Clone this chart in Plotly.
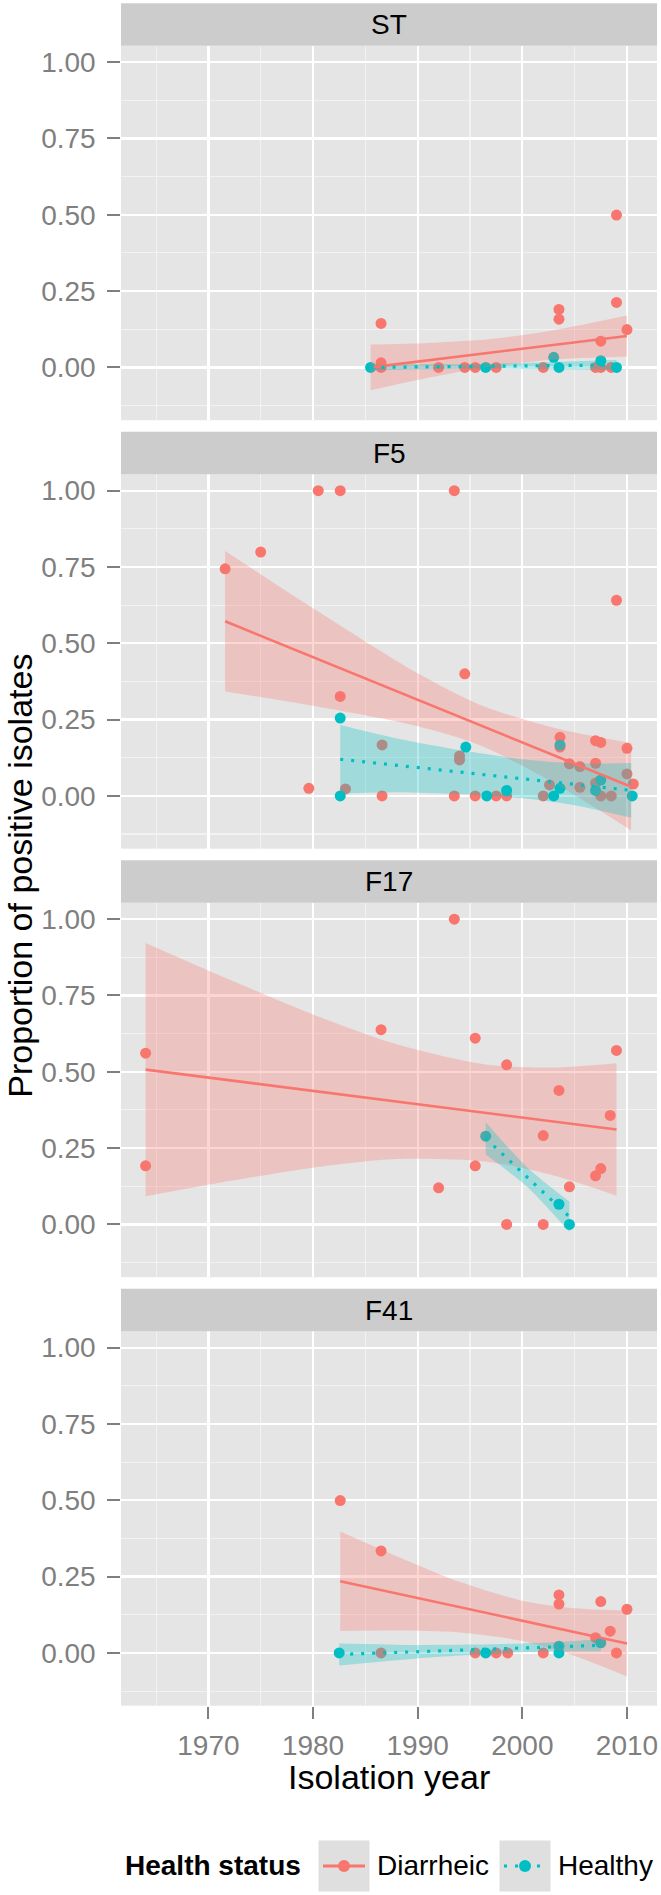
import plotly.graph_objects as go

# ---------------- data ----------------
panels = ["ST", "F5", "F17", "F41"]
groups = ["Diarrheic", "Healthy"]
x_ticks = [1970, 1980, 1990, 2000, 2010]
y_ticks = [0.0, 0.25, 0.50, 0.75, 1.00]
y_tick_text = ["0.00", "0.25", "0.50", "0.75", "1.00"]

# points
st_d_year = [1986.5, 1986.5, 1986.5, 1992.0, 1994.5, 1995.5, 1997.5, 2002.0, 2003.5, 2003.5, 2007.0, 2007.5, 2007.5, 2008.5, 2009.0, 2009.0, 2010.0]
st_d_prop = [0.144, 0.015, 0.0, 0.0, 0.0, 0.0, 0.0, 0.0, 0.190, 0.158, 0.0, 0.0, 0.086, 0.0, 0.499, 0.213, 0.124]
st_h_year = [1985.5, 1996.5, 2003.0, 2003.5, 2007.5, 2009.0]
st_h_prop = [0.0, 0.0, 0.033, 0.0, 0.022, 0.0]

f5_d_year = [1971.6, 1975.0, 1979.6, 1980.5, 1982.6, 1982.6, 1983.1, 1986.6, 1986.6, 1993.5, 1993.5, 1994.0, 1994.0, 1994.5, 1995.5, 1997.5, 1998.5, 2002.0, 2002.6, 2003.6, 2003.6, 2004.5, 2005.5, 2005.5, 2007.0, 2007.0, 2007.0, 2007.5, 2007.5, 2008.5, 2009.0, 2010.0, 2010.0, 2010.6]
f5_d_prop = [0.744, 0.799, 0.025, 1.0, 1.0, 0.326, 0.023, 0.167, 0.0, 1.0, 0.0, 0.131, 0.118, 0.400, 0.0, 0.0, 0.0, 0.0, 0.036, 0.192, 0.160, 0.105, 0.096, 0.028, 0.181, 0.107, 0.042, 0.175, 0.0, 0.0, 0.641, 0.156, 0.072, 0.039]
f5_h_year = [1982.6, 1982.6, 1994.6, 1996.6, 1998.5, 2003.0, 2003.6, 2003.6, 2007.0, 2007.5, 2010.5]
f5_h_prop = [0.255, 0.0, 0.160, 0.0, 0.018, 0.0, 0.025, 0.167, 0.018, 0.052, 0.0]

f17_d_year = [1964.0, 1964.0, 1986.5, 1992.0, 1993.5, 1995.5, 1995.5, 1998.5, 1998.5, 2002.0, 2002.0, 2003.5, 2004.5, 2007.0, 2007.5, 2008.4, 2009.0]
f17_d_prop = [0.561, 0.192, 0.638, 0.120, 1.0, 0.610, 0.192, 0.523, 0.0, 0.291, 0.0, 0.439, 0.123, 0.159, 0.183, 0.357, 0.570]
f17_h_year = [1996.5, 2003.5, 2004.5]
f17_h_prop = [0.289, 0.066, 0.0]

f41_d_year = [1982.6, 1986.5, 1986.5, 1995.5, 1997.5, 1998.6, 2002.0, 2003.5, 2003.5, 2007.0, 2007.5, 2008.4, 2009.0, 2010.0]
f41_d_prop = [0.499, 0.334, 0.0, 0.0, 0.0, 0.0, 0.0, 0.190, 0.160, 0.050, 0.168, 0.071, 0.0, 0.143]
f41_h_year = [1982.5, 1996.5, 2003.5, 2003.5, 2007.5]
f41_h_prop = [0.0, 0.0, 0.0, 0.022, 0.033]

# linear smooths (fit and 95% band)
st_d_sx = [1985.5, 1991.0, 1997.0, 2003.0, 2010.0]
st_d_fit = [0.000, 0.023, 0.048, 0.074, 0.103]
st_d_lo = [-0.075, -0.034, 0.003, 0.026, 0.036]
st_d_hi = [0.075, 0.080, 0.093, 0.122, 0.170]
st_h_sx = [1985.5, 1997.0, 2009.0]
st_h_fit = [0.000, 0.004, 0.008]
st_h_lo = [-0.010, -0.004, -0.008]
st_h_hi = [0.010, 0.012, 0.024]

f5_d_sx = [1971.6, 1980.0, 1990.0, 1996.0, 2003.0, 2010.4]
f5_d_fit = [0.572, 0.455, 0.315, 0.231, 0.133, 0.030]
f5_d_lo = [0.342, 0.295, 0.228, 0.165, 0.043, -0.113]
f5_d_hi = [0.802, 0.615, 0.402, 0.298, 0.223, 0.173]
f5_h_sx = [1982.6, 1988.0, 1994.0, 2000.0, 2005.0, 2010.4]
f5_h_fit = [0.120, 0.100, 0.078, 0.056, 0.038, 0.018]
f5_h_lo = [0.008, 0.012, 0.006, -0.008, -0.031, -0.072]
f5_h_hi = [0.232, 0.188, 0.150, 0.120, 0.107, 0.108]

f17_d_sx = [1964.0, 1972.0, 1980.0, 1988.0, 1996.5, 2003.0, 2009.0]
f17_d_fit = [0.507, 0.472, 0.437, 0.402, 0.365, 0.337, 0.311]
f17_d_lo = [0.092, 0.142, 0.186, 0.214, 0.206, 0.160, 0.094]
f17_d_hi = [0.922, 0.802, 0.688, 0.590, 0.524, 0.514, 0.528]
f17_h_sx = [1996.5, 2000.5, 2004.5]
f17_h_fit = [0.282, 0.154, 0.025]
f17_h_lo = [0.229, 0.122, -0.025]
f17_h_hi = [0.335, 0.186, 0.075]

f41_d_sx = [1982.6, 1988.0, 1994.0, 2000.0, 2005.0, 2010.0]
f41_d_fit = [0.235, 0.195, 0.150, 0.105, 0.068, 0.031]
f41_d_lo = [0.072, 0.073, 0.067, 0.039, -0.010, -0.077]
f41_d_hi = [0.398, 0.317, 0.233, 0.171, 0.146, 0.139]
f41_h_sx = [1982.5, 1990.0, 1997.0, 2003.0, 2007.5]
f41_h_fit = [-0.005, 0.004, 0.0125, 0.0197, 0.025]
f41_h_lo = [-0.041, -0.018, -0.003, 0.005, 0.005]
f41_h_hi = [0.031, 0.026, 0.028, 0.035, 0.045]

points = {
    "ST": {"Diarrheic": (st_d_year, st_d_prop), "Healthy": (st_h_year, st_h_prop)},
    "F5": {"Diarrheic": (f5_d_year, f5_d_prop), "Healthy": (f5_h_year, f5_h_prop)},
    "F17": {"Diarrheic": (f17_d_year, f17_d_prop), "Healthy": (f17_h_year, f17_h_prop)},
    "F41": {"Diarrheic": (f41_d_year, f41_d_prop), "Healthy": (f41_h_year, f41_h_prop)},
}
smooths = {
    "ST": {"Diarrheic": (st_d_sx, st_d_fit, st_d_lo, st_d_hi), "Healthy": (st_h_sx, st_h_fit, st_h_lo, st_h_hi)},
    "F5": {"Diarrheic": (f5_d_sx, f5_d_fit, f5_d_lo, f5_d_hi), "Healthy": (f5_h_sx, f5_h_fit, f5_h_lo, f5_h_hi)},
    "F17": {"Diarrheic": (f17_d_sx, f17_d_fit, f17_d_lo, f17_d_hi), "Healthy": (f17_h_sx, f17_h_fit, f17_h_lo, f17_h_hi)},
    "F41": {"Diarrheic": (f41_d_sx, f41_d_fit, f41_d_lo, f41_d_hi), "Healthy": (f41_h_sx, f41_h_fit, f41_h_lo, f41_h_hi)},
}

# ---------------- style ----------------
colors = {"Diarrheic": "#F8766D", "Healthy": "#00BFC4"}
fills = {"Diarrheic": "rgba(248,118,109,0.30)", "Healthy": "rgba(0,191,196,0.30)"}
dashes = {"Diarrheic": "solid", "Healthy": "3px,8px"}
widths = {"Diarrheic": 2.6, "Healthy": 3.2}
FONT = "Liberation Sans, Arial, Helvetica, sans-serif"

W, H = 661, 1895
L, R, T, B = 121, 4, 3, 189
PW = W - L - R
PH = H - T - B


def px2x(px):
    return (px - L) / PW


def py2y(py):
    return (H - B - py) / PH


PERIOD = 428.5
PLOT_TOP0 = 45.7
PLOT_H = 374.5
STRIP_H = 42.4

fig = go.Figure()

for i, pan in enumerate(panels):
    ax = "" if i == 0 else str(i + 1)
    xa, ya = "x" + ax, "y" + ax
    # points first (ribbons are drawn over them, as in ggplot)
    for g in groups:
        xs, ys = points[pan][g]
        fig.add_trace(go.Scatter(x=xs, y=ys, mode="markers", xaxis=xa, yaxis=ya,
                                 marker=dict(color=colors[g], size=11, line=dict(width=0)),
                                 showlegend=False, hoverinfo="skip"))
    # ribbons
    for g in groups:
        sx, fit, lo, hi = smooths[pan][g]
        fig.add_trace(go.Scatter(x=sx, y=lo, mode="lines", xaxis=xa, yaxis=ya,
                                 line=dict(width=0, shape="spline", smoothing=0.8),
                                 showlegend=False, hoverinfo="skip"))
        fig.add_trace(go.Scatter(x=sx, y=hi, mode="lines", xaxis=xa, yaxis=ya, fill="tonexty",
                                 fillcolor=fills[g],
                                 line=dict(width=0, shape="spline", smoothing=0.8),
                                 showlegend=False, hoverinfo="skip"))
    # fit lines
    for g in groups:
        sx, fit, lo, hi = smooths[pan][g]
        fig.add_trace(go.Scatter(x=sx, y=fit, mode="lines", xaxis=xa, yaxis=ya,
                                 line=dict(color=colors[g], width=widths[g], dash=dashes[g]),
                                 showlegend=False, hoverinfo="skip"))

layout = dict(
    width=W, height=H,
    margin=dict(l=L, r=R, t=T, b=B, autoexpand=False),
    paper_bgcolor="white", plot_bgcolor="#E5E5E5",
    font=dict(family=FONT, color="black"),
    showlegend=False,
)

shapes = []
annotations = []
for i, pan in enumerate(panels):
    ax = "" if i == 0 else str(i + 1)
    top = PLOT_TOP0 + PERIOD * i
    bot = top + PLOT_H
    last = i == len(panels) - 1
    layout["xaxis" + ax] = dict(
        domain=[0, 1], anchor="y" + ax, range=[1961.65, 2012.87],
        tickmode="array", tickvals=x_ticks, ticktext=[str(v) for v in x_ticks],
        showgrid=True, gridcolor="white", gridwidth=2.3, zeroline=False, showline=False,
        minor=dict(tickmode="array", tickvals=[1965, 1975, 1985, 1995, 2005],
                   showgrid=True, gridcolor="#F2F2F2", gridwidth=1.1, ticks=""),
        ticks="outside" if last else "", ticklen=12.7, tickwidth=2, tickcolor="#7F7F7F",
        showticklabels=last, tickfont=dict(size=28, color="#7F7F7F", family=FONT),
        ticklabelstandoff=2, fixedrange=True,
    )
    if i > 0:
        layout["xaxis" + ax]["matches"] = "x"
    layout["yaxis" + ax] = dict(
        domain=[py2y(bot), py2y(top)], anchor="x" + ax, range=[-0.173, 1.054],
        tickmode="array", tickvals=y_ticks, ticktext=y_tick_text,
        showgrid=True, gridcolor="white", gridwidth=2.3, zeroline=False, showline=False,
        minor=dict(tickmode="array", tickvals=[-0.125, 0.125, 0.375, 0.625, 0.875],
                   showgrid=True, gridcolor="#F2F2F2", gridwidth=1.1, ticks=""),
        ticks="outside", ticklen=12.7, tickwidth=2, tickcolor="#7F7F7F",
        tickfont=dict(size=28, color="#7F7F7F", family=FONT), ticklabelstandoff=6,
        fixedrange=True,
    )
    # strip
    s_top = top - STRIP_H
    shapes.append(dict(type="rect", xref="paper", yref="paper", x0=0, x1=1,
                       y0=py2y(top), y1=py2y(s_top), fillcolor="#CCCCCC", line=dict(width=0)))
    annotations.append(dict(text=pan, xref="paper", yref="paper", x=0.5, y=py2y(s_top + STRIP_H / 2),
                            xanchor="center", yanchor="middle", showarrow=False,
                            font=dict(size=28, color="black", family=FONT)))

# axis titles
annotations.append(dict(text="Isolation year", xref="paper", yref="paper", x=px2x(389), y=py2y(1777),
                        xanchor="center", yanchor="middle", showarrow=False,
                        font=dict(size=34, color="black", family=FONT)))
annotations.append(dict(text="Proportion of positive isolates", xref="paper", yref="paper",
                        x=px2x(20), y=py2y(875.7), textangle=-90,
                        xanchor="center", yanchor="middle", showarrow=False,
                        font=dict(size=34, color="black", family=FONT)))

# legend (drawn manually, ggplot style)
LEG_Y = 1866
annotations.append(dict(text="<b>Health status</b>", xref="paper", yref="paper", x=px2x(123), y=py2y(LEG_Y),
                        xanchor="left", yanchor="middle", showarrow=False,
                        font=dict(size=28, color="black", family=FONT)))
key_left = {"Diarrheic": 318, "Healthy": 499}
for g in groups:
    kl = key_left[g]
    shapes.append(dict(type="rect", xref="paper", yref="paper", x0=px2x(kl), x1=px2x(kl + 52),
                       y0=py2y(LEG_Y + 26), y1=py2y(LEG_Y - 26), fillcolor="#DFDFDF",
                       line=dict(color="white", width=1)))
    shapes.append(dict(type="line", xref="paper", yref="paper", x0=px2x(kl + 5), x1=px2x(kl + 47),
                       y0=py2y(LEG_Y), y1=py2y(LEG_Y),
                       line=dict(color=colors[g], width=3, dash=dashes[g])))
    shapes.append(dict(type="circle", xref="paper", yref="paper", x0=px2x(kl + 26 - 6), x1=px2x(kl + 26 + 6),
                       y0=py2y(LEG_Y + 6), y1=py2y(LEG_Y - 6), fillcolor=colors[g], line=dict(width=0)))
    annotations.append(dict(text=g, xref="paper", yref="paper", x=px2x(kl + 57), y=py2y(LEG_Y),
                            xanchor="left", yanchor="middle", showarrow=False,
                            font=dict(size=28, color="black", family=FONT)))

layout["shapes"] = shapes
layout["annotations"] = annotations
fig.update_layout(**layout)

fig.write_html("out.html",
               config={"displayModeBar": False, "staticPlot": True},
               post_script="document.body.style.margin='0px';document.body.style.overflow='hidden';")
